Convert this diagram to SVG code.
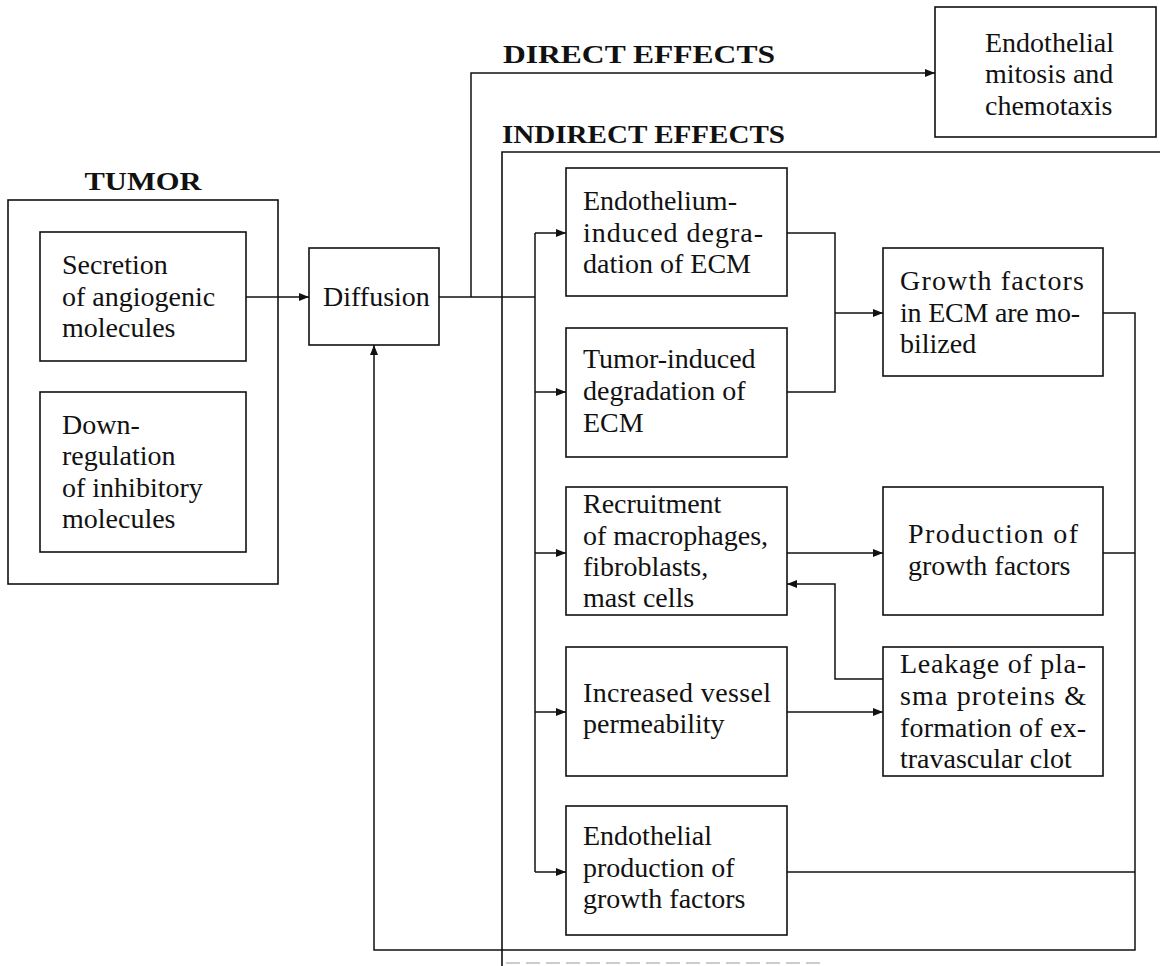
<svg xmlns="http://www.w3.org/2000/svg" width="1160" height="966" viewBox="0 0 1160 966">
<style>
.bg{fill:#fff}
.box{fill:none;stroke:#111;stroke-width:1.6}
.ln{fill:none;stroke:#111;stroke-width:1.5}
.t{font-family:"Liberation Serif","Times New Roman",serif;font-size:28px;fill:#111}
.h{font-family:"Liberation Serif","Times New Roman",serif;font-size:25px;font-weight:bold;fill:#111}
.faint{fill:none;stroke:#ccc;stroke-width:2;stroke-dasharray:14 6}
</style>
<defs>
<marker id="ah" viewBox="0 0 10 8" refX="10" refY="4" markerWidth="10" markerHeight="8" markerUnits="userSpaceOnUse" orient="auto">
<path d="M0,0 L10,4 L0,8 z" fill="#111"/>
</marker>
</defs>
<rect class="bg" x="0" y="0" width="1160" height="966"/>

<g id="tumor">
<text class="h" x="143" y="190" text-anchor="middle" textLength="117" lengthAdjust="spacingAndGlyphs">TUMOR</text>
<rect class="box" x="8" y="200" width="270" height="384"/>
</g>
<g id="secretion">
<rect class="box" x="40" y="232" width="206" height="129"/>
<text class="t" x="62" y="274">Secretion</text>
<text class="t" x="62" y="306">of angiogenic</text>
<text class="t" x="62" y="337">molecules</text>
</g>
<g id="downregulation">
<rect class="box" x="40" y="392" width="206" height="160"/>
<text class="t" x="62" y="434">Down-</text>
<text class="t" x="62" y="465">regulation</text>
<text class="t" x="62" y="497">of inhibitory</text>
<text class="t" x="62" y="528">molecules</text>
</g>
<g id="diffusion">
<rect class="box" x="309" y="248" width="130" height="97"/>
<text class="t" x="323" y="306">Diffusion</text>
</g>
<g id="direct-label">
<text class="h" x="503" y="63" textLength="272" lengthAdjust="spacingAndGlyphs">DIRECT EFFECTS</text>
</g>
<g id="mitosis">
<rect class="box" x="935" y="7" width="221" height="130"/>
<text class="t" x="985" y="52">Endothelial</text>
<text class="t" x="985" y="83">mitosis and</text>
<text class="t" x="985" y="115">chemotaxis</text>
</g>
<g id="indirect">
<text class="h" x="502" y="143" textLength="283" lengthAdjust="spacingAndGlyphs">INDIRECT EFFECTS</text>
<path class="box" d="M502,966 V152 H1160"/>
<path class="faint" d="M506,963 H820"/>
</g>
<g id="endothelium-degradation">
<rect class="box" x="566" y="168" width="221" height="128"/>
<text class="t" x="583" y="210">Endothelium-</text>
<text class="t" x="583" y="242" textLength="180" lengthAdjust="spacing">induced degra-</text>
<text class="t" x="583" y="273">dation of ECM</text>
</g>
<g id="tumor-degradation">
<rect class="box" x="566" y="328" width="221" height="129"/>
<text class="t" x="583" y="368">Tumor-induced</text>
<text class="t" x="583" y="400">degradation of</text>
<text class="t" x="583" y="432">ECM</text>
</g>
<g id="growth-mobilized">
<rect class="box" x="883" y="248" width="220" height="128"/>
<text class="t" x="900" y="290" textLength="184" lengthAdjust="spacing">Growth factors</text>
<text class="t" x="900" y="322" textLength="180" lengthAdjust="spacing">in ECM are mo-</text>
<text class="t" x="900" y="353">bilized</text>
</g>
<g id="recruitment">
<rect class="box" x="566" y="487" width="221" height="128"/>
<text class="t" x="583" y="513">Recruitment</text>
<text class="t" x="583" y="545">of macrophages,</text>
<text class="t" x="583" y="576">fibroblasts,</text>
<text class="t" x="583" y="607">mast cells</text>
</g>
<g id="production">
<rect class="box" x="883" y="487" width="220" height="128"/>
<text class="t" x="908" y="543" textLength="170" lengthAdjust="spacing">Production of</text>
<text class="t" x="908" y="575">growth factors</text>
</g>
<g id="permeability">
<rect class="box" x="566" y="647" width="221" height="129"/>
<text class="t" x="583" y="702" textLength="188" lengthAdjust="spacing">Increased vessel</text>
<text class="t" x="583" y="733">permeability</text>
</g>
<g id="leakage">
<rect class="box" x="883" y="647" width="220" height="129"/>
<text class="t" x="900" y="673" textLength="186" lengthAdjust="spacing">Leakage of pla-</text>
<text class="t" x="900" y="705" textLength="186" lengthAdjust="spacing">sma proteins &amp;</text>
<text class="t" x="900" y="737" textLength="186" lengthAdjust="spacing">formation of ex-</text>
<text class="t" x="900" y="768">travascular clot</text>
</g>
<g id="endothelial-production">
<rect class="box" x="566" y="806" width="221" height="129"/>
<text class="t" x="583" y="845">Endothelial</text>
<text class="t" x="583" y="877">production of</text>
<text class="t" x="583" y="908">growth factors</text>
</g>

<g id="connectors">
<path class="ln" d="M246,297 H309" marker-end="url(#ah)"/>
<path class="ln" d="M439,297 H535"/>
<path class="ln" d="M471,297 V73 H935" marker-end="url(#ah)"/>
<path class="ln" d="M535,233 V872"/>
<path class="ln" d="M535,233 H566" marker-end="url(#ah)"/>
<path class="ln" d="M535,392 H566" marker-end="url(#ah)"/>
<path class="ln" d="M535,553 H566" marker-end="url(#ah)"/>
<path class="ln" d="M535,712 H566" marker-end="url(#ah)"/>
<path class="ln" d="M535,872 H566" marker-end="url(#ah)"/>
<path class="ln" d="M787,233 H835 V392 H787"/>
<path class="ln" d="M835,313 H883" marker-end="url(#ah)"/>
<path class="ln" d="M1103,313 H1135 V950 H374 V345" marker-end="url(#ah)"/>
<path class="ln" d="M1103,553 H1135"/>
<path class="ln" d="M787,872 H1135"/>
<path class="ln" d="M787,553 H883" marker-end="url(#ah)"/>
<path class="ln" d="M787,712 H883" marker-end="url(#ah)"/>
<path class="ln" d="M883,679 H835 V584 H787" marker-end="url(#ah)"/>
</g>
</svg>
